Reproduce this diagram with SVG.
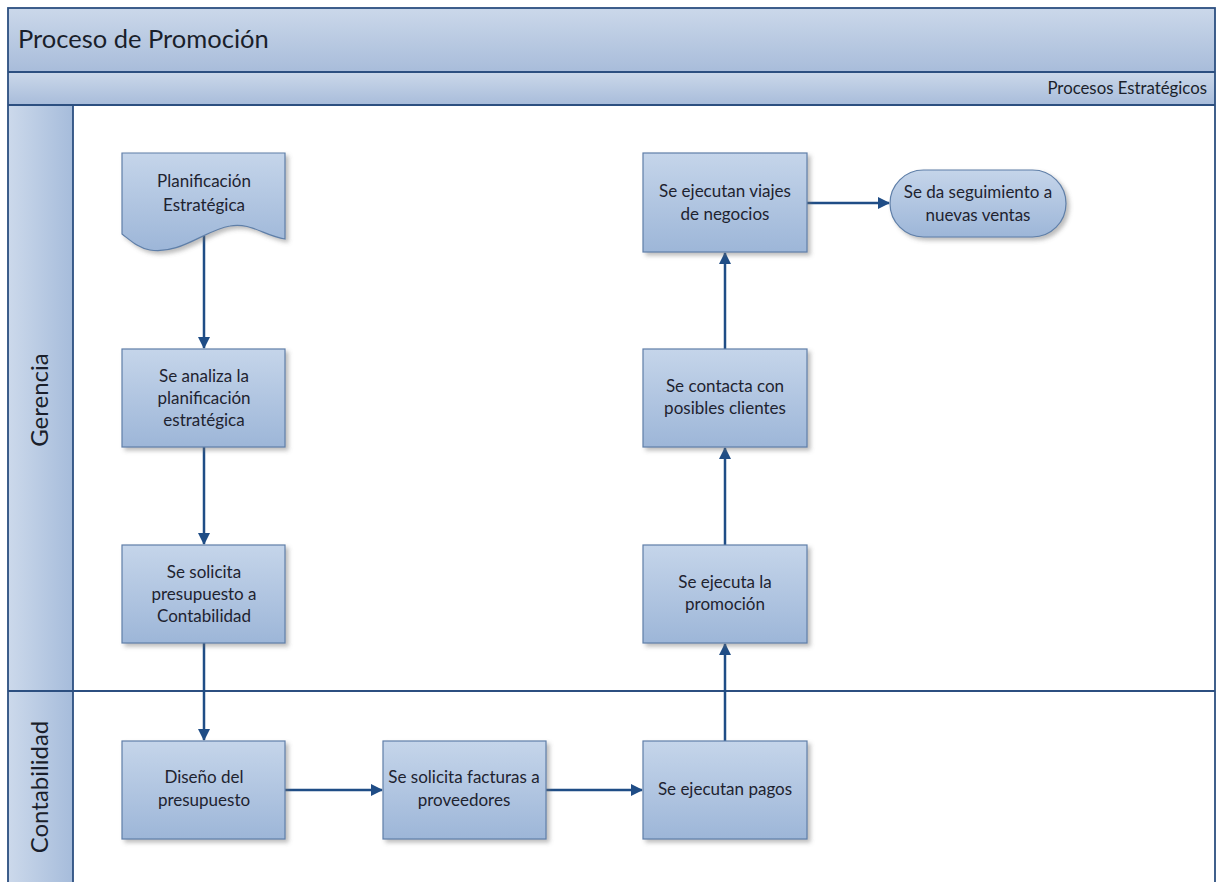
<svg xmlns="http://www.w3.org/2000/svg" width="1221" height="882" viewBox="0 0 1221 882">
  <style>
    .node { fill: url(#nodeFill); stroke: #5f7fa8; stroke-width: 1.2; filter: url(#shadow); }
    .label { font-family: Lato, "Open Sans", "Liberation Sans", sans-serif; font-size: 17px; fill: #1e2330; text-anchor: middle; }
    .lane { font-family: Lato, "Open Sans", "Liberation Sans", sans-serif; font-size: 24px; fill: #1a1f2b; text-anchor: middle; }
    .edge { stroke: #1f4d86; stroke-width: 2.5; fill: none; marker-end: url(#arrow); }
    .rule { stroke: #2c4f80; stroke-width: 1.8; fill: none; }
  </style>
  <defs>
    <linearGradient id="nodeFill" x1="0" y1="0" x2="0" y2="1">
      <stop offset="0" stop-color="#c5d5ea"/>
      <stop offset="1" stop-color="#9db6d8"/>
    </linearGradient>
    <linearGradient id="barFill" x1="0" y1="0" x2="0" y2="1">
      <stop offset="0" stop-color="#cbd8ea"/>
      <stop offset="1" stop-color="#a8bcda"/>
    </linearGradient>
    <linearGradient id="colFill" x1="0" y1="0" x2="1" y2="0">
      <stop offset="0" stop-color="#ccd9eb"/>
      <stop offset="1" stop-color="#a6bcdb"/>
    </linearGradient>
    <filter id="shadow" x="-10%" y="-10%" width="130%" height="130%">
      <feDropShadow dx="3" dy="3" stdDeviation="2" flood-color="#6b6b6b" flood-opacity="0.45"/>
    </filter>
    <marker id="arrow" viewBox="0 0 12 12" refX="11" refY="6" markerWidth="12" markerHeight="12" markerUnits="userSpaceOnUse" orient="auto">
      <path d="M0,0 L12,6 L0,12 Z" fill="#1f4d86"/>
    </marker>
  </defs>

  <rect x="0" y="0" width="1221" height="882" fill="#ffffff"/>

  <!-- pool frame, title and phase bar -->
  <g id="pool">
    <rect x="8" y="8" width="1207" height="64" fill="url(#barFill)"/>
    <rect x="8" y="72" width="1207" height="33" fill="url(#barFill)"/>
    <rect x="8" y="105" width="65" height="777" fill="url(#colFill)"/>
    <rect x="8" y="8" width="1207" height="880" class="rule"/>
    <line x1="8" y1="72" x2="1215" y2="72" class="rule"/>
    <line x1="8" y1="105" x2="1215" y2="105" class="rule"/>
    <line x1="73" y1="105" x2="73" y2="882" class="rule"/>
    <line x1="8" y1="691" x2="1215" y2="691" class="rule"/>
    <text x="18" y="48" font-family="Lato, 'Open Sans', 'Liberation Sans', sans-serif" font-size="25.5" fill="#1a1f2b">Proceso de Promoción</text>
    <text x="1207" y="94" font-family="Lato, 'Open Sans', 'Liberation Sans', sans-serif" font-size="16.8" fill="#1a1f2b" text-anchor="end">Procesos Estratégicos</text>
  </g>

  <g id="lane-gerencia">
    <text class="lane" transform="translate(48,400) rotate(-90)">Gerencia</text>
  </g>
  <g id="lane-contabilidad">
    <text class="lane" transform="translate(48,787) rotate(-90)">Contabilidad</text>
  </g>

  <!-- connectors -->
  <g id="connectors">
    <line class="edge" x1="204" y1="236" x2="204" y2="348"/>
    <line class="edge" x1="204" y1="447" x2="204" y2="544"/>
    <line class="edge" x1="204" y1="643" x2="204" y2="740"/>
    <line class="edge" x1="285" y1="790" x2="382" y2="790"/>
    <line class="edge" x1="546" y1="790" x2="642" y2="790"/>
    <line class="edge" x1="725" y1="741" x2="725" y2="644"/>
    <line class="edge" x1="725" y1="545" x2="725" y2="448"/>
    <line class="edge" x1="725" y1="349" x2="725" y2="253"/>
    <line class="edge" x1="807" y1="203" x2="889" y2="203"/>
  </g>

  <g id="n-planificacion">
    <path class="node" d="M122,153 H285 V239 C265,236 250,222 230,226 C205,230 180,255 150,250 C138,248 130,240 122,234 Z"/>
    <text class="label" x="204" y="187">Planificación</text>
    <text class="label" x="204" y="211">Estratégica</text>
  </g>

  <g id="n-analiza">
    <rect class="node" x="122" y="349" width="163" height="98"/>
    <text class="label" x="204" y="382">Se analiza la</text>
    <text class="label" x="204" y="404">planificación</text>
    <text class="label" x="204" y="426">estratégica</text>
  </g>

  <g id="n-solicita-presupuesto">
    <rect class="node" x="122" y="545" width="163" height="98"/>
    <text class="label" x="204" y="578">Se solicita</text>
    <text class="label" x="204" y="600">presupuesto a</text>
    <text class="label" x="204" y="622">Contabilidad</text>
  </g>

  <g id="n-diseno">
    <rect class="node" x="122" y="741" width="163" height="98"/>
    <text class="label" x="204" y="783">Diseño del</text>
    <text class="label" x="204" y="806">presupuesto</text>
  </g>

  <g id="n-facturas">
    <rect class="node" x="383" y="741" width="163" height="98"/>
    <text class="label" x="464" y="783">Se solicita facturas a</text>
    <text class="label" x="464" y="806">proveedores</text>
  </g>

  <g id="n-pagos">
    <rect class="node" x="643" y="741" width="164" height="98"/>
    <text class="label" x="725" y="795">Se ejecutan pagos</text>
  </g>

  <g id="n-promocion">
    <rect class="node" x="643" y="545" width="164" height="98"/>
    <text class="label" x="725" y="588">Se ejecuta la</text>
    <text class="label" x="725" y="610">promoción</text>
  </g>

  <g id="n-contacta">
    <rect class="node" x="643" y="349" width="164" height="98"/>
    <text class="label" x="725" y="392">Se contacta con</text>
    <text class="label" x="725" y="414">posibles clientes</text>
  </g>

  <g id="n-viajes">
    <rect class="node" x="643" y="153" width="164" height="99"/>
    <text class="label" x="725" y="197">Se ejecutan viajes</text>
    <text class="label" x="725" y="220">de negocios</text>
  </g>

  <g id="n-seguimiento">
    <rect class="node" x="890" y="170" width="176" height="67" rx="33.5" ry="33.5"/>
    <text class="label" x="978" y="198">Se da seguimiento a</text>
    <text class="label" x="978" y="221">nuevas ventas</text>
  </g>
</svg>
